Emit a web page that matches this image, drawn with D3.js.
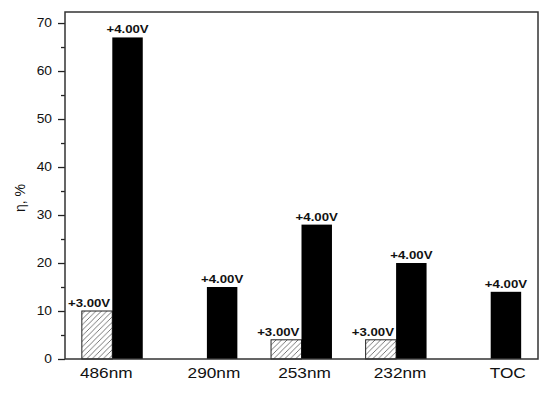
<!DOCTYPE html>
<html>
<head>
<meta charset="utf-8">
<script src="https://cdn.jsdelivr.net/npm/d3@7/dist/d3.min.js"></script>
<style>
  html, body { margin: 0; padding: 0; background: #fff; }
  svg { display: block; }
</style>
</head>
<body>
<script>
// ---- data ----
const categories = ["486nm", "290nm", "253nm", "232nm", "TOC"];
const values3V = [10, null, 4, 4, null];     // hatched bars (+3.00V)
const values4V = [67, 15, 28, 20, 14];       // black bars (+4.00V)
const label3V = "+3.00V";
const label4V = "+4.00V";
const yTickValues = [0, 10, 20, 30, 40, 50, 60, 70];
const yMinorTicks = [5, 15, 25, 35, 45, 55, 65];
const yLabel = "η, %";

// ---- layout ----
const W = 550, H = 393;
const plot = { left: 65, top: 12, right: 538, bottom: 359 };
const stretch = 1.15; // the original text is slightly wide
const catLabelShift = [-6, 7, 3, 4, 17];

const svg = d3.select("body").append("svg").attr("width", W).attr("height", H);

const x = d3.scaleLinear().domain([-0.5, categories.length - 0.5]).range([plot.left, plot.right]);
const y = d3.scaleLinear().domain([0, 72.3]).range([plot.bottom, plot.top]);
const barW = 0.322;

const defs = svg.append("defs");
const pat = defs.append("pattern").attr("id", "hatch")
  .attr("patternUnits", "userSpaceOnUse").attr("width", 5.5).attr("height", 5.5);
pat.append("rect").attr("width", 5.5).attr("height", 5.5).attr("fill", "#fff");
pat.append("path").attr("d", "M0,5.5 L5.5,0 M-1,1 L1,-1 M4.5,6.5 L6.5,4.5")
  .attr("stroke", "#555").attr("stroke-width", 0.8);

// bars
const g = svg.append("g");
categories.forEach((c, i) => {
  if (values3V[i] != null) {
    g.append("rect")
      .attr("x", x(i - barW)).attr("y", y(values3V[i]))
      .attr("width", x(i) - x(i - barW)).attr("height", y(0) - y(values3V[i]))
      .attr("fill", "url(#hatch)").attr("stroke", "#222").attr("stroke-width", 1);
  }
  if (values4V[i] != null) {
    g.append("rect")
      .attr("x", x(i)).attr("y", y(values4V[i]))
      .attr("width", x(i + barW) - x(i)).attr("height", y(0) - y(values4V[i]))
      .attr("fill", "#000");
  }
});

function stretchedText(parent, tx, ty, str, anchor, size, weight) {
  const gg = parent.append("g").attr("transform", `translate(${tx},${ty}) scale(${stretch},1)`);
  gg.append("text").attr("text-anchor", anchor)
    .attr("font-family", "'Liberation Sans', Arial, sans-serif")
    .attr("font-size", size).attr("font-weight", weight || "normal")
    .attr("fill", "#111").text(str);
}

// bar labels
categories.forEach((c, i) => {
  if (values3V[i] != null) {
    stretchedText(svg, x(i - barW / 2) - 8, y(values3V[i]) - 4, label3V, "middle", 11.5, "bold");
  }
  if (values4V[i] != null) {
    stretchedText(svg, x(i + barW / 2), y(values4V[i]) - 4, label4V, "middle", 11.5, "bold");
  }
});

// y axis
const yAxis = d3.axisLeft(y).tickValues(yTickValues).tickSize(7).tickFormat("");
const ya = svg.append("g").attr("transform", `translate(${plot.left},0)`).call(yAxis);
ya.select(".domain").remove();
ya.selectAll(".tick line").attr("stroke", "#222").attr("stroke-width", 1.3);
const yMinor = d3.axisLeft(y).tickValues(yMinorTicks).tickSize(4).tickFormat("");
const ym = svg.append("g").attr("transform", `translate(${plot.left},0)`).call(yMinor);
ym.select(".domain").remove();
ym.selectAll(".tick line").attr("stroke", "#222").attr("stroke-width", 1.3);

yTickValues.forEach(v => {
  stretchedText(svg, plot.left - 13, y(v) + 4.3, String(v), "end", 12);
});

// x labels
categories.forEach((c, i) => {
  stretchedText(svg, x(i) + catLabelShift[i], 377.5, c, "middle", 15);
});

// frame
svg.append("rect")
  .attr("x", plot.left).attr("y", plot.top)
  .attr("width", plot.right - plot.left).attr("height", plot.bottom - plot.top)
  .attr("fill", "none").attr("stroke", "#333").attr("stroke-width", 1.5);

// y label
svg.append("text")
  .attr("transform", `translate(25,198) rotate(-90)`)
  .attr("text-anchor", "middle")
  .attr("font-family", "'Liberation Sans', Arial, sans-serif")
  .attr("font-size", 14).attr("fill", "#111").text(yLabel);
</script>
</body>
</html>
